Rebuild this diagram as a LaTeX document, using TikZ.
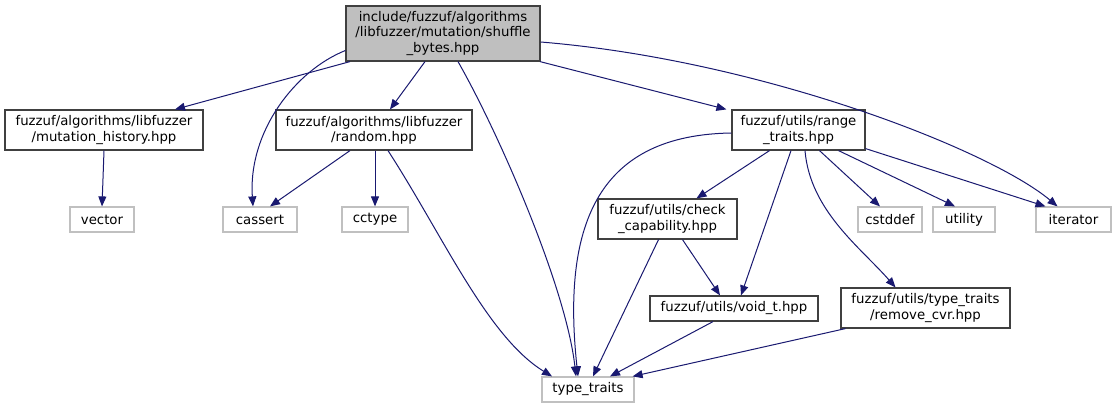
\documentclass[tikz,border=0pt]{standalone}
\usepackage{fontspec}
\setmainfont{DejaVu Sans}
\usetikzlibrary{arrows.meta}
\definecolor{edgeblue}{HTML}{191970}
\definecolor{rootgray}{HTML}{BFBFBF}
\definecolor{boxline}{HTML}{404040}
\definecolor{sysline}{HTML}{C0C0C0}

\begin{document}
\begin{tikzpicture}[x=1pt,y=-1pt,font=\fontsize{13.3}{15.3}\selectfont,
  filebox/.style={draw=boxline,line width=1.2pt,fill=white,inner sep=0pt,align=center,minimum height=40pt},
  rootbox/.style={filebox,fill=rootgray,minimum height=55pt},
  sysbox/.style={draw=sysline,line width=1.2pt,fill=white,inner sep=0pt,minimum height=25pt},
  edge/.style={draw=edgeblue,line width=1pt,-{Triangle[length=10pt,width=8pt]}}]
\fill[white] (0,0) rectangle (1116,409);
\useasboundingbox (0,0) rectangle (1116,409);
% the file itself and the project headers it pulls in
\node[rootbox,minimum width=194pt] (root) at (443,33.5) {include/fuzzuf/algorithms\\/libfuzzer/mutation/shuffle\\\_bytes.hpp};
\node[filebox,minimum width=198pt] (history) at (104,130) {fuzzuf/algorithms/libfuzzer\\/mutation\_history.hpp};
\node[filebox,minimum width=196pt] (random) at (374,130) {fuzzuf/algorithms/libfuzzer\\/random.hpp};
\node[filebox,minimum width=133pt] (range) at (798.5,130) {fuzzuf/utils/range\\\_traits.hpp};
\node[filebox,minimum width=139pt] (checkcap) at (667.5,219) {fuzzuf/utils/check\\\_capability.hpp};
\node[filebox,minimum width=168pt,minimum height=25pt] (voidt) at (734,308.5) {fuzzuf/utils/void\_t.hpp};
\node[filebox,minimum width=169pt] (removecvr) at (925.5,308) {fuzzuf/utils/type\_traits\\/remove\_cvr.hpp};
% standard headers
\foreach \name/\x/\w in {vector/102/64,cassert/260/74,cctype/375/66,cstddef/890/64,utility/964/62,iterator/1073.5/75}{
  \node[sysbox,minimum width=\w*1pt] (\name) at (\x,219.5) {\name};
}
\node[sysbox,minimum width=92pt] (typetraits) at (588,389.5) {type\_traits};
% includes of the root file
\draw[edge] ([xshift=-93pt]root.south) -- ([xshift=71pt]history.north);
\draw[edge] ([yshift=-17pt]root.west) .. controls +(-50,20) and +(-5,-75) .. ([xshift=-7pt]cassert.north);
\draw[edge] ([xshift=-18pt]root.south) -- ([xshift=16pt]random.north);
\draw[edge] ([xshift=15pt]root.south) .. controls +(40,70) and +(-10,-90) .. ([xshift=-12pt]typetraits.north);
\draw[edge] ([xshift=97pt]root.south) -- ([xshift=-5pt]range.north west);
\draw[edge] ([yshift=-8.5pt]root.east) .. controls +(220,18) and +(-68,-57) .. ([xshift=-16pt]iterator.north);
% includes of the libfuzzer headers
\draw[edge] (history.south) -- (vector.north);
\draw[edge] ([xshift=-24pt]random.south) -- ([xshift=10pt]cassert.north);
\draw[edge] (cctype.north |- random.south) -- (cctype.north);
\draw[edge] ([xshift=14pt]random.south) .. controls +(55,85) and +(-65,-40) .. ([xshift=-36pt]typetraits.north);
% includes of the utils headers
\draw[edge] ([yshift=-3pt]range.west) .. controls +(-130,2) and +(-17,-157) .. ([xshift=-10pt]typetraits.north);
\draw[edge] ([xshift=-29pt]range.south) -- ([xshift=29pt]checkcap.north);
\draw[edge] ([xshift=-7.5pt]range.south) -- ([xshift=7pt]voidt.north);
\draw[edge] ([xshift=6.5pt]range.south) .. controls +(5,60) and +(-35,-40) .. ([xshift=-30pt]removecvr.north);
\draw[edge] ([xshift=21pt]range.south) -- ([xshift=-10pt]cstddef.north);
\draw[edge] ([xshift=40pt]range.south) -- ([xshift=-9pt]utility.north);
\draw[edge] ([yshift=2pt]range.south east) -- ([xshift=-28pt]iterator.north);
\draw[edge] ([xshift=-9pt]checkcap.south) -- ([xshift=5pt]typetraits.north);
\draw[edge] ([xshift=15pt]checkcap.south) -- ([xshift=-14pt]voidt.north);
\draw[edge] ([xshift=-21pt]voidt.south) -- ([xshift=22pt]typetraits.north);
\draw[edge] ([xshift=5pt]removecvr.south west) -- ([xshift=-2pt]typetraits.north east);
\end{tikzpicture}
\end{document}
